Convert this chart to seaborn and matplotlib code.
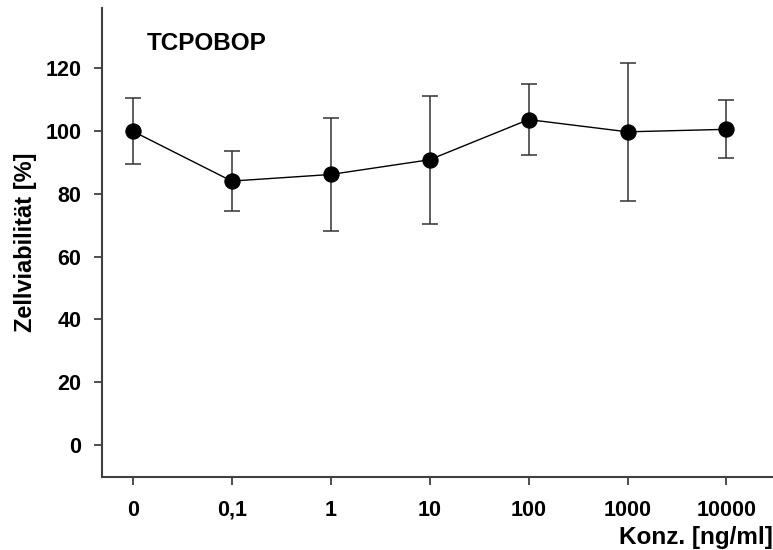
import matplotlib
matplotlib.use("Agg")
import matplotlib.pyplot as plt
import seaborn as sns
import pandas as pd

# Concentrations and measured viability (mean ± SD)
concentrations = ["0", "0,1", "1", "10", "100", "1000", "10000"]
viability_mean = [100.0, 84.1, 86.2, 90.9, 103.7, 99.8, 100.6]
viability_sd = [10.6, 9.7, 18.0, 20.4, 11.4, 22.1, 9.2]
y_ticks = [0, 20, 40, 60, 80, 100, 120]

sns.set_theme(style="ticks")
plt.rcParams["font.family"] = ["Liberation Sans", "DejaVu Sans"]
plt.rcParams["font.weight"] = "bold"
plt.rcParams["text.color"] = "black"
plt.rcParams["axes.labelcolor"] = "black"

df = pd.DataFrame({"Konz": concentrations, "Viab": viability_mean})

fig = plt.figure(figsize=(7.73, 5.5), dpi=100)
ax = fig.add_axes([0.132, 0.133, 0.868, 0.852])

ax.errorbar(range(len(concentrations)), viability_mean, yerr=viability_sd,
            fmt="none", ecolor="#333333", elinewidth=1.1, capsize=5.5,
            capthick=1.1, zorder=2)
sns.lineplot(data=df, x=range(len(concentrations)), y="Viab", ax=ax,
             color="black", linewidth=1.0, marker="o", markersize=11,
             markeredgecolor="black", markerfacecolor="black", zorder=3)

ax.set_xlim(-0.31, 6.47)
ax.set_ylim(-10.2, 139.2)
ax.set_xticks(range(len(concentrations)))
ax.set_xticklabels(concentrations)
ax.set_yticks(y_ticks)

for side in ["top", "right"]:
    ax.spines[side].set_visible(False)
for side in ["left", "bottom"]:
    ax.spines[side].set_color("#404040")
    ax.spines[side].set_linewidth(1.5)

ax.tick_params(axis="both", colors="#404040", width=1.3, length=6,
               labelsize=15.5, labelcolor="black")
ax.tick_params(axis="x", pad=10.5)
ax.tick_params(axis="y", pad=9)
for lbl in ax.get_xticklabels() + ax.get_yticklabels():
    lbl.set_fontweight("bold")

ax.set_ylabel("Zellviabilität [%]", fontsize=17, fontweight="bold", labelpad=6)
ax.set_xlabel("Konz. [ng/ml]", fontsize=17.5, fontweight="bold", loc="right",
              labelpad=4)

ax.text(0.066, 0.925, "TCPOBOP", transform=ax.transAxes, fontsize=17.5,
        fontweight="bold", ha="left", va="center")

fig.savefig("out.png", dpi=100)
